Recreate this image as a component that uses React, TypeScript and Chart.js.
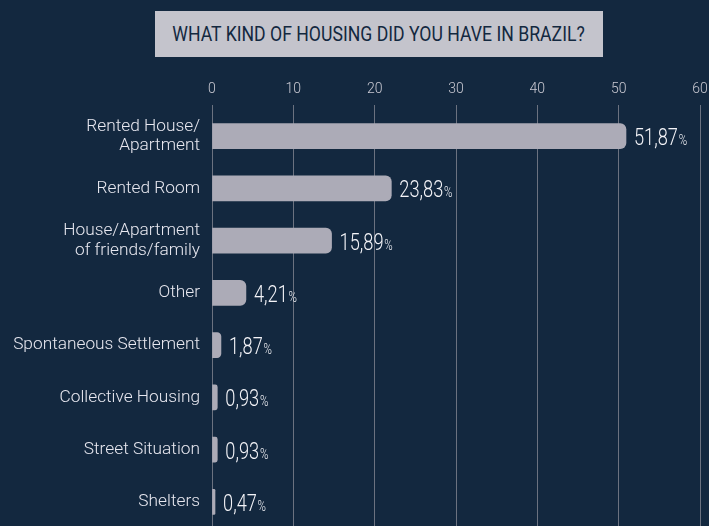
import React, { useEffect, useRef } from "react";
import { Chart, registerables } from "chart.js";

Chart.register(...registerables);

const TITLE = "WHAT KIND OF HOUSING DID YOU HAVE IN BRAZIL?";
const categories: (string | string[])[] = [
  ["Rented House/", "Apartment"],
  "Rented Room",
  ["House/Apartment", "of friends/family"],
  "Other",
  "Spontaneous Settlement",
  "Collective Housing",
  "Street Situation",
  "Shelters",
];
// bar lengths as drawn in the picture
const barLengths = [50.9, 22.05, 14.7, 4.17, 1.1, 0.65, 0.65, 0.37];
// printed values
const valueLabels = ["51,87", "23,83", "15,89", "4,21", "1,87", "0,93", "0,93", "0,47"];
const xMin = 0;
const xMax = 60;
const xStep = 10;

const BG = "#13283f";
const FONT = "Roboto, 'Open Sans', sans-serif";

const valuePlugin = {
  id: "valueLabels",
  afterDatasetsDraw(chart: any) {
    const ctx = chart.ctx;
    const meta = chart.getDatasetMeta(0);
    meta.data.forEach((el: any, i: number) => {
      ctx.save();
      ctx.fillStyle = "#f4f4f8";
      ctx.textBaseline = "alphabetic";
      ctx.textAlign = "left";
      ctx.translate(el.x + 8, el.y + 9);
      ctx.scale(0.76, 1);
      ctx.font = `300 24px ${FONT}`;
      const txt = valueLabels[i];
      ctx.fillText(txt, 0, 0);
      const w = ctx.measureText(txt).width;
      ctx.font = `300 15px ${FONT}`;
      ctx.fillText("%", w + 1, 0);
      ctx.restore();
    });
  },
};

export default function App() {
  const ref = useRef<HTMLCanvasElement>(null);
  useEffect(() => {
    if (!ref.current) return;
    const chart = new Chart(ref.current, {
      type: "bar",
      data: {
        labels: categories as any,
        datasets: [
          {
            data: barLengths,
            backgroundColor: "#acabb7",
            borderRadius: 6,
            borderSkipped: "start",
            barThickness: 25,
          },
        ],
      },
      options: {
        indexAxis: "y",
        responsive: false,
        animation: false,
        layout: { padding: { top: 0, left: 0, right: 9, bottom: 0 } },
        plugins: { legend: { display: false }, tooltip: { enabled: false }, title: { display: false } },
        scales: {
          x: {
            position: "top",
            min: xMin,
            max: xMax,
            ticks: { stepSize: xStep, color: "#c9c9d2", font: { family: FONT, size: 14, weight: "300" }, padding: 7 },
            grid: { color: "#6b7280", lineWidth: 1, tickLength: 5, drawTicks: true },
            border: { display: false },
            afterFit: (s: any) => {
              s.height = 110;
              s.paddingLeft = 0;
              s.paddingRight = 0;
            },
          },
          y: {
            grid: { display: false, drawTicks: false },
            border: { display: false },
            ticks: { color: "#e8e8f0", font: { family: FONT, size: 17.3, weight: "300", lineHeight: 1.12 }, padding: 12 },
            afterFit: (s: any) => {
              s.width = 212;
              s.paddingTop = 0;
              s.paddingBottom = 0;
            },
          },
        },
      },
      plugins: [valuePlugin],
    });
    return () => chart.destroy();
  }, []);
  return (
    <div style={{ position: "fixed", left: 0, top: 0, width: 709, height: 526, background: BG, overflow: "hidden" }}>
      <div
        style={{
          position: "absolute",
          left: 155,
          top: 11,
          width: 448,
          height: 46,
          background: "#c4c4cc",
          color: BG,
          display: "flex",
          alignItems: "center",
          justifyContent: "center",
          fontFamily: FONT,
          fontSize: 21,
          whiteSpace: "nowrap",
        }}
      >
        <span style={{ display: "inline-block", transform: "scaleX(0.84)" }}>{TITLE}</span>
      </div>
      <canvas ref={ref} width={709} height={528} style={{ position: "absolute", left: 0, top: 0 }} />
    </div>
  );
}
